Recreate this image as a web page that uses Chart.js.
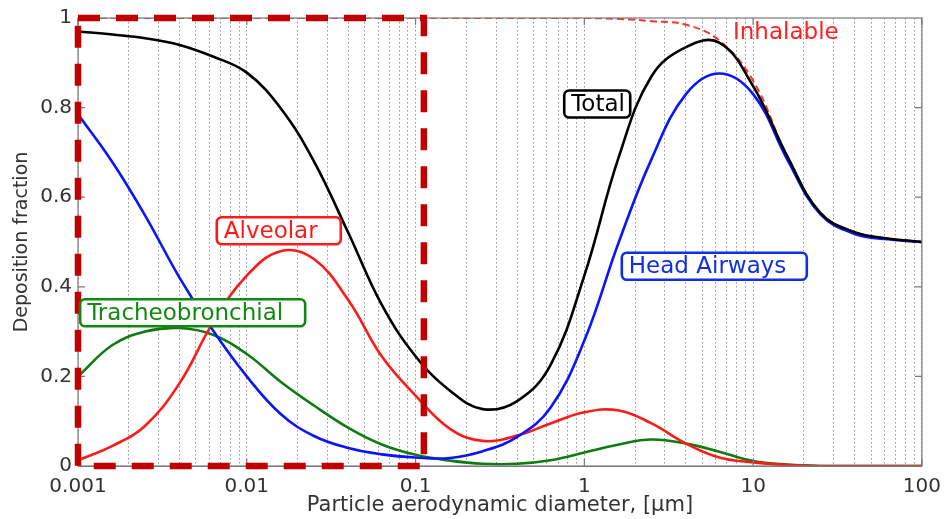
<!DOCTYPE html>
<html>
<head>
<meta charset="utf-8">
<script src="https://cdn.jsdelivr.net/npm/chart.js@4.4.1/dist/chart.umd.min.js"></script>
<style>
  html,body{margin:0;padding:0;background:#fff}
  #wrap{width:950px;height:519px}
</style>
</head>
<body>
<div id="wrap"><canvas id="c" width="950" height="519"></canvas></div>
<script>
const diam = [0.001,0.0016,0.0025,0.004,0.0063,
              0.01,0.016,0.025,0.04,0.063,
              0.1,0.16,0.25,0.4,0.63,
              1,1.6,2.5,4,6.3,
              10,16,25,40,63,100];

const total    = [0.97,0.963,0.955,0.94,0.914, 0.878,0.797,0.68,0.52,0.36, 0.245,0.168,0.127,0.145,0.225, 0.425,0.69,0.87,0.935,0.945, 0.848,0.69,0.565,0.522,0.508,0.5];
const headAir  = [0.785,0.678,0.559,0.42,0.303, 0.2,0.115,0.067,0.04,0.026, 0.019,0.018,0.033,0.065,0.13, 0.28,0.5,0.685,0.83,0.876, 0.83,0.683,0.562,0.518,0.506,0.5];
const alveolar = [0.013,0.045,0.09,0.185,0.32, 0.425,0.48,0.462,0.37,0.245, 0.157,0.083,0.056,0.068,0.095, 0.12,0.124,0.095,0.05,0.019, 0.008,0.002,0,0,0,0];
const trachBr  = [0.2,0.27,0.3,0.308,0.293, 0.25,0.187,0.135,0.085,0.048, 0.025,0.012,0.005,0.005,0.013, 0.03,0.048,0.059,0.05,0.032, 0.011,0.003,0,0,0,0];
const inhal    = [1,1,1,1,1, 1,1,1,1,1, 1,1,1,1,1, 1,0.998,0.993,0.985,0.95, 0.86,0.69,0.565,0.522,0.508,0.5];

const xTickValues = [0.001,0.01,0.1,1,10,100];
const xTickLabels = ['0.001','0.01','0.1','1','10','100'];
const yTickLabels = ['0','0.2','0.4','0.6','0.8','1'];
const boxRange = [0.001, 0.112];   // red dashed frame, µm

// curve labels: left edge of box (µm), vertical centre (fraction)
const curveLabels = [
  {text:'Total',            x:0.76,    y:0.808, color:'#000000', boxW:66,  box:true},
  {text:'Alveolar',         x:0.00664, y:0.525, color:'#ff1a1a', boxW:124, box:true},
  {text:'Tracheobronchial', x:0.00103, y:0.342, color:'#118811', boxW:225, box:true},
  {text:'Head Airways',     x:1.667,   y:0.446, color:'#1030e0', boxW:185, box:true},
  {text:'Inhalable',        x:7.6,     y:0.968, color:'#ff2020', boxW:0,   box:false}
];

const FONT = 'DejaVu Sans';
const pts = arr => diam.map((d,i)=>({x:d, y:arr[i]}));

// every 1..9 x decade, for the dotted grid
const xGrid = [];
for (let e=-3;e<=2;e++) for (let m=1;m<=9;m++){
  const v = parseFloat((m*Math.pow(10,e)).toPrecision(6));
  if (v<=100) xGrid.push(v);
}

const framePlugin = {
  id:'frame',
  afterDatasetsDraw(chart){
    const {ctx, chartArea:a, scales:{x,y}} = chart;
    ctx.save();
    // axes box
    ctx.strokeStyle = '#7a7a7a'; ctx.lineWidth = 1.2; ctx.setLineDash([]);
    ctx.strokeRect(a.left, a.top, a.right-a.left, a.bottom-a.top);
    // inward ticks
    ctx.beginPath();
    [0.2,0.4,0.6,0.8].forEach(v=>{
      const py = y.getPixelForValue(v);
      ctx.moveTo(a.left,py); ctx.lineTo(a.left+7,py);
      ctx.moveTo(a.right,py); ctx.lineTo(a.right-7,py);
    });
    xTickValues.forEach(v=>{
      const px = x.getPixelForValue(v);
      ctx.moveTo(px,a.top); ctx.lineTo(px,a.top+7);
      ctx.moveTo(px,a.bottom); ctx.lineTo(px,a.bottom-7);
    });
    ctx.stroke();
    // red dashed region
    const x0 = x.getPixelForValue(boxRange[0]), x1 = x.getPixelForValue(boxRange[1]);
    const y0 = y.getPixelForValue(1), y1 = y.getPixelForValue(0);
    ctx.strokeStyle = '#c00000'; ctx.lineWidth = 6.5; ctx.setLineDash([22,16]);
    ctx.strokeRect(x0, y0, x1-x0, y1-y0);
    ctx.setLineDash([]);
    // curve labels
    ctx.font = '23px "'+FONT+'"';
    ctx.textBaseline = 'middle'; ctx.textAlign = 'left';
    curveLabels.forEach(l=>{
      const px = x.getPixelForValue(l.x), py = y.getPixelForValue(l.y);
      if (l.box){
        const h = 27, r = 5;
        ctx.beginPath();
        ctx.roundRect(px, py-h/2, l.boxW, h, r);
        ctx.fillStyle = '#fff'; ctx.fill();
        ctx.lineWidth = 2.6; ctx.strokeStyle = l.color; ctx.stroke();
        ctx.fillStyle = l.color;
        ctx.fillText(l.text, px+7, py+1);
      } else {
        ctx.fillStyle = l.color;
        ctx.fillText(l.text, px, py+1);
      }
    });
    ctx.restore();
  }
};

const line = (label, arr, color, extra) => Object.assign({
  label, data:pts(arr), borderColor:color, borderWidth:2.6,
  pointRadius:0, fill:false, tension:0.4
}, extra||{});

new Chart(document.getElementById('c'), {
  type:'line',
  data:{ datasets:[
    line('Total', total, '#000000'),
    line('Head Airways', headAir, '#0a14ff'),
    line('Alveolar', alveolar, '#ff1a1a'),
    line('Tracheobronchial', trachBr, '#127a12'),
    line('Inhalable', inhal, '#ff3030', {borderWidth:2, borderDash:[7,4]})
  ]},
  options:{
    responsive:false, animation:false,
    layout:{ padding:{ top:14, right:20, left:0, bottom:0 } },
    plugins:{ legend:{display:false}, tooltip:{enabled:false} },
    scales:{
      x:{
        type:'logarithmic', min:0.001, max:100,
        afterBuildTicks(s){ s.ticks = xGrid.map(v=>({value:v})); },
        afterFit(s){ s.height = 53; },
        grid:{ color:'#8f8f8f', lineWidth:1, drawTicks:false },
        border:{ display:true, color:'#7a7a7a', dash:[1.5,2.5] },
        ticks:{
          autoSkip:false, maxRotation:0, padding:9, color:'#333',
          font:{ family:FONT, size:20 },
          callback(v){ const i = xTickValues.indexOf(v); return i>=0 ? xTickLabels[i] : ''; }
        },
        title:{ display:true, text:'Particle aerodynamic diameter, [µm]', color:'#333',
          font:{ family:FONT, size:21 }, padding:{ top:0, bottom:1 } }
      },
      y:{
        min:0, max:1,
        afterFit(s){ s.width = 78; },
        grid:{ display:false, drawTicks:false },
        border:{ display:false },
        ticks:{ stepSize:0.2, padding:6, color:'#333', font:{ family:FONT, size:20 },
          callback(v){ return yTickLabels[Math.round(v*5)]; } },
        title:{ display:true, text:'Deposition fraction', color:'#333',
          font:{ family:FONT, size:19 }, padding:{ top:11, bottom:0 } }
      }
    }
  },
  plugins:[framePlugin]
});
</script>
</body>
</html>
